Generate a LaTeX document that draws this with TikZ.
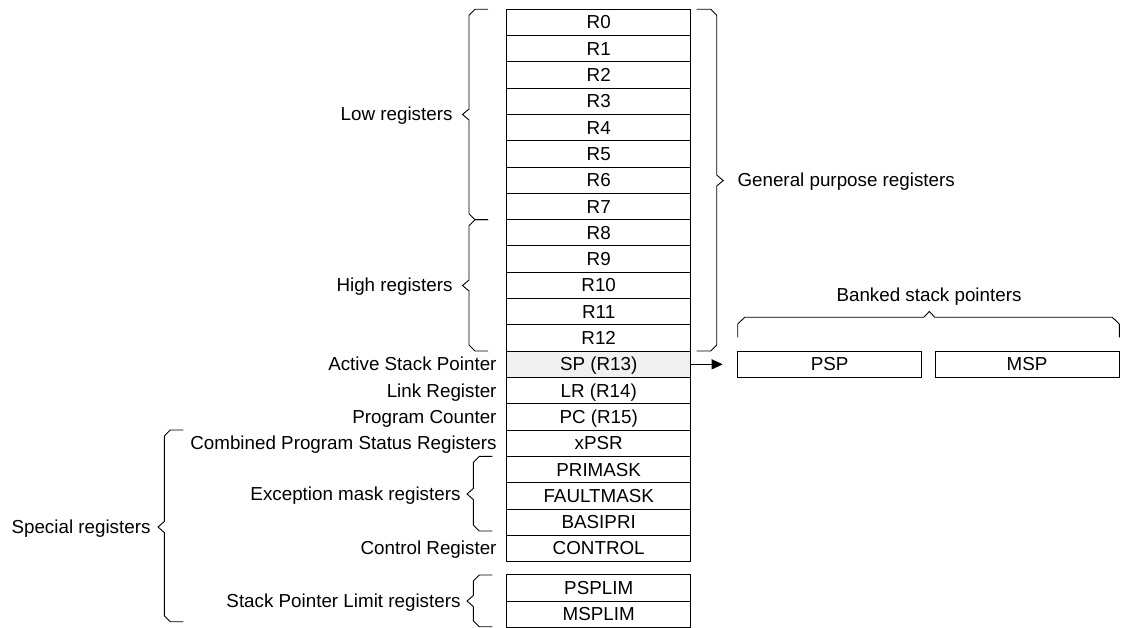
\documentclass[tikz,border=0pt]{standalone}
\usepackage{fontspec}
\setmainfont{Liberation Sans}
\usepackage{tikz}
\usetikzlibrary{positioning}
\usetikzlibrary{arrows.meta}

\begin{document}
\begin{tikzpicture}[x=1pt,y=-1pt,line width=1pt,node distance=0pt,font=\fontsize{18.8pt}{22pt}\selectfont,
	reg/.style={rectangle, draw, minimum width=184pt, minimum height=26.3pt, inner sep=0pt, outer sep=0pt, text height=13pt, text depth=0pt},
	lbl/.style={inner sep=0pt, text height=13pt, text depth=0pt},
	brk/.style={line width=0.9pt, line join=miter}]
			
			\useasboundingbox (0,0) rectangle (1122,628);
			
			\node[reg] (r0) at (598.7,22.45) {R0};
			\node[reg] (r1) [below=of r0] {R1};
			\node[reg] (r2) [below=of r1] {R2};
			\node[reg] (r3) [below=of r2] {R3};
			\node[reg] (r4) [below=of r3] {R4};
			\node[reg] (r5) [below=of r4] {R5};
			\node[reg] (r6) [below=of r5] {R6};
			\node[reg] (r7) [below=of r6] {R7};
			\node[reg] (r8) [below=of r7] {R8};
			\node[reg] (r9) [below=of r8] {R9};
			\node[reg] (r10) [below=of r9] {R10};
			\node[reg] (r11) [below=of r10] {R11};
			\node[reg] (r12) [below=of r11] {R12};
			\node[reg, fill=gray!12] (sp) [below=of r12] {SP (R13)};
			\node[reg] (lr) [below=of sp] {LR (R14)};
			\node[reg] (pc) [below=of lr] {PC (R15)};
			\node[reg] (xpsr) [below=of pc] {xPSR};
			\node[reg] (primask) [below=of xpsr] {PRIMASK};
			\node[reg] (faultmask) [below=of primask] {FAULTMASK};
			\node[reg] (basepri) [below=of faultmask] {BASIPRI};
			\node[reg] (control) [below=of basepri] {CONTROL};
			\node[reg] (psplim) [below=13.3pt of control] {PSPLIM};
			\node[reg] (msplim) [below=of psplim] {MSPLIM};
			
			\node[reg] (psp) [right=47pt of sp] {PSP};
			\node[reg] (msp) [right=13.3pt of psp] {MSP};
			
			% labels left of the column
			\node[lbl] (splbl) [left=9.7pt of sp] {Active Stack Pointer};
			\node[lbl] (lrlbl) [left=9.7pt of lr] {Link Register};
			\node[lbl] (pclbl) [left=9.7pt of pc] {Program Counter};
			\node[lbl] (xpsrlbl) [left=9.7pt of xpsr] {Combined Program Status Registers};
			\node[lbl] (ctrllbl) [left=9.7pt of control] {Control Register};
			
			\node[lbl, anchor=east] (lowlbl) at (453,114.5) {Low registers};
			\node[lbl, anchor=east] (highlbl) at (453,285.5) {High registers};
			\node[lbl, anchor=west] (gprlbl) at (737,180.5) {General purpose registers};
			\node[lbl] (banklbl) at (929,295) {Banked stack pointers};
			\node[lbl, anchor=east] (exclbl) at (461,494) {Exception mask registers};
			\node[lbl, anchor=east] (limlbl) at (461,601) {Stack Pointer Limit registers};
			\node[lbl, anchor=east] (speclbl) at (151,527) {Special registers};
			
			% braces
			\draw[brk] (488,9.3) -- (475,9.3) -- (469,15.3) -- (469,109) -- (462.5,114.5) -- (469,120) -- (469,213.7) -- (475,219.7) -- (488,219.7);
			\draw[brk] (488,219.7) -- (475,219.7) -- (469,225.7) -- (469,280) -- (462.5,285.5) -- (469,291) -- (469,345) -- (475,351) -- (488,351);
			\draw[brk] (696.7,9.3) -- (710.7,9.3) -- (716.7,15.3) -- (716.7,175) -- (723.2,180.5) -- (716.7,186) -- (716.7,345) -- (710.7,351) -- (696.7,351);
			\draw[brk] (737.7,337.3) -- (737.7,324) -- (744.7,317.3) -- (923.8,317.3) -- (929.3,311.5) -- (934.8,317.3) -- (1112.3,317.3) -- (1119.3,324) -- (1119.3,337.3);
			\draw[brk] (492.3,456.4) -- (479.3,456.4) -- (473.3,462.4) -- (473.3,488.5) -- (467,494) -- (473.3,499.5) -- (473.3,525) -- (479.3,531) -- (492.3,531);
			\draw[brk] (492.3,575) -- (479.3,575) -- (473.3,581) -- (473.3,595.5) -- (467,601) -- (473.3,606.5) -- (473.3,620.7) -- (479.3,626.7) -- (492.3,626.7);
			\draw[brk] (183.3,430) -- (170.3,430) -- (164.3,436) -- (164.3,521.5) -- (158,527) -- (164.3,532.5) -- (164.3,615.7) -- (170.3,621.7) -- (183.3,621.7);
			
			\draw[-{Triangle[length=11pt,width=10pt]}, shorten >=15pt] (sp) -- (psp);
			
		\end{tikzpicture}
\end{document}
